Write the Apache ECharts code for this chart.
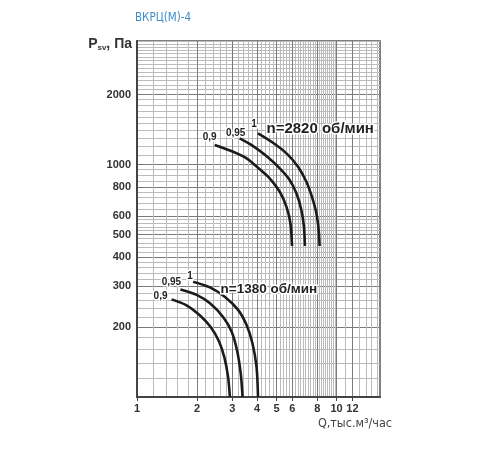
<!DOCTYPE html>
<html>
<head>
<meta charset="utf-8">
<script src="https://cdn.jsdelivr.net/npm/echarts@6/dist/echarts.min.js"></script>
<style>
  html, body { margin: 0; background: #fff; }
  #chart { width: 500px; height: 450px; }
</style>
</head>
<body>
<div id="chart"></div>
<script>
// tick labels
const qLabels = [1, 2, 3, 4, 5, 6, 8, 10, 12];
const pLabels = [200, 300, 400, 500, 600, 800, 1000, 2000];

// n = 2820 об/мин
const q2820_090 = [2.45, 3.03, 3.54, 4.12, 4.62, 5.19, 5.61, 5.87, 5.98];
const p2820_090 = [1213, 1135, 1063, 954, 872, 764, 658, 559, 446];
const q2820_095 = [3.27, 3.82, 4.45, 5.19, 5.82, 6.29, 6.66, 6.86, 6.94];
const p2820_095 = [1296, 1201, 1088, 963, 858, 752, 637, 540, 446];
const q2820_100 = [4.04, 4.80, 5.61, 6.41, 7.06, 7.52, 7.92, 8.13, 8.22];
const p2820_100 = [1362, 1241, 1117, 979, 843, 727, 617, 523, 446];

// n = 1380 об/мин
const q1380_090 = [1.49, 1.77, 2.05, 2.34, 2.58, 2.74, 2.86, 2.92];
const p1380_090 = [263, 248, 226, 200, 173, 148, 122, 100];
const q1380_095 = [1.65, 1.99, 2.32, 2.70, 2.98, 3.17, 3.31, 3.38];
const p1380_095 = [290, 275, 253, 221, 191, 159, 126, 100];
const q1380_100 = [1.91, 2.32, 2.75, 3.21, 3.54, 3.79, 3.97, 4.04];
const p1380_100 = [313, 296, 270, 237, 204, 170, 135, 100];

// grid lines (paper-style log grid)
function steps(ranges, skip) {
  const out = [];
  ranges.forEach(([a, b, s]) => {
    for (let v = a; v <= b + 1e-9; v += s) {
      const r = Math.round(v * 100) / 100;
      if (skip.indexOf(r) < 0 && out.indexOf(r) < 0) out.push(r);
    }
  });
  return out;
}
const qMajor = [1, 2, 3, 4, 5, 6, 8, 10, 12];
const qMinor = steps([[1, 10, 0.2], [10, 16, 1]], qMajor);
const pMajor = [100, 200, 300, 400, 500, 600, 800, 1000, 2000];
const pMinor = steps([[100, 600, 20], [600, 800, 40], [800, 1000, 50], [1000, 3400, 100]], pMajor);

function curve(q, p, text, off) {
  return {
    type: 'line',
    smooth: 0.3,
    showSymbol: true,
    symbolSize: 0,
    silent: true,
    lineStyle: { color: '#1b1b1b', width: 2.6 },
    itemStyle: { color: '#1b1b1b' },
    data: q.map((x, i) => i === 0 ? {
      value: [x, p[i]],
      label: {
        show: true, formatter: text, position: 'inside', offset: off,
        color: '#222', fontSize: 10, fontWeight: 'bold', fontFamily: 'Liberation Sans',
        textBorderColor: '#fff', textBorderWidth: 3
      }
    } : [x, p[i]])
  };
}

const axisFont = { color: '#333', fontSize: 11, fontWeight: 'bold', fontFamily: 'Liberation Sans', formatter: v => String(v) };
const narrow = '"DejaVu Sans Condensed", "Liberation Sans", sans-serif';

const chart = echarts.init(document.getElementById('chart'));
chart.setOption({
  animation: false,
  title: {
    text: 'ВКРЦ(М)-4', left: 135, top: 12, padding: 0,
    textStyle: { color: '#3d8ccc', fontSize: 11.5, fontWeight: 'normal', fontFamily: narrow }
  },
  grid: { left: 137, right: 120, top: 41, bottom: 53, show: true, borderColor: '#555', borderWidth: 1.5 },
  xAxis: [{
    type: 'log', logBase: 10, min: 1, max: 16.5,
    name: 'Q,тыс.м³/час', nameLocation: 'end', nameGap: 12,
    nameTextStyle: { align: 'right', verticalAlign: 'top', padding: [20, 0, 0, 0], color: '#444', fontSize: 12.5, fontFamily: narrow },
    axisLine: { lineStyle: { color: '#444', width: 2 } },
    axisTick: { show: true, length: 4, customValues: qMajor, lineStyle: { color: '#444' } },
    axisLabel: Object.assign({ customValues: qLabels, margin: 6 }, axisFont),
    splitLine: { show: true, lineStyle: { color: '#7a7a7a', width: 1 } }
  }, {
    type: 'log', logBase: 10, min: 1, max: 16.5, gridIndex: 0,
    axisLine: { show: false }, axisLabel: { show: false },
    axisTick: { show: false, customValues: qMinor },
    splitLine: { show: true, lineStyle: { color: '#bbbbbb', width: 1 } }
  }],
  yAxis: [{
    type: 'log', logBase: 10, min: 100, max: 3400,
    name: '{p|P}{s|sv}{p|, Па}', nameLocation: 'end', nameGap: -3,
    nameTextStyle: {
      align: 'right', verticalAlign: 'middle', padding: [0, 5, 0, 0],
      rich: {
        p: { fontSize: 14, fontWeight: 'bold', color: '#333', fontFamily: 'Liberation Sans' },
        s: { fontSize: 8, fontWeight: 'bold', color: '#333', fontFamily: 'Liberation Sans', padding: [8, 0, 0, 0] }
      }
    },
    axisLine: { show: true, lineStyle: { color: '#444', width: 2 } },
    axisTick: { show: false, customValues: pMajor },
    axisLabel: Object.assign({ customValues: pLabels, margin: 6 }, axisFont),
    splitLine: { show: true, lineStyle: { color: '#7a7a7a', width: 1 } }
  }, {
    type: 'log', logBase: 10, min: 100, max: 3400, gridIndex: 0, position: 'left',
    axisLine: { show: false }, axisLabel: { show: false },
    axisTick: { show: false, customValues: pMinor },
    splitLine: { show: true, lineStyle: { color: '#bbbbbb', width: 1 } }
  }],
  graphic: [
    { type: 'text', left: 265, top: 120, z: 10,
      style: { text: 'n=2820 об/мин', font: 'bold 15px "Liberation Sans"', fill: '#222', stroke: '#fff', lineWidth: 3 } },
    { type: 'text', left: 219, top: 281, z: 10,
      style: { text: 'n=1380 об/мин', font: 'bold 13.5px "Liberation Sans"', fill: '#222', stroke: '#fff', lineWidth: 3 } }
  ],
  series: [
    curve(q2820_090, p2820_090, '0,9', [-5, -8]),
    curve(q2820_095, p2820_095, '0,95', [-4, -5]),
    curve(q2820_100, p2820_100, '1', [-4, -9]),
    curve(q1380_090, p1380_090, '0,9', [-11, -3]),
    curve(q1380_095, p1380_095, '0,95', [-9, -7]),
    curve(q1380_100, p1380_100, '1', [-3, -6])
  ]
});
</script>
</body>
</html>
